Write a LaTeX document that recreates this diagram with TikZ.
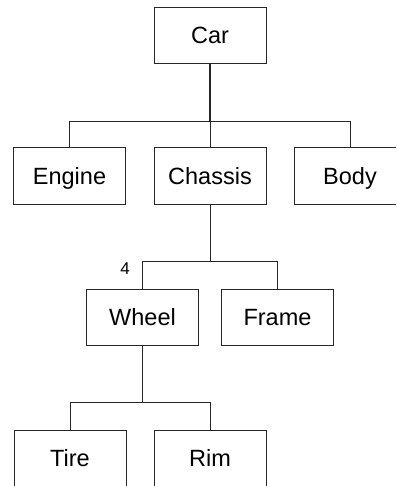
\documentclass[tikz,border=0pt]{standalone}
\usepackage{fontspec}
\setmainfont{Liberation Sans}
\begin{document}
\begin{tikzpicture}[x=1pt,y=-1pt,
  part/.style={draw=black!85, line width=1pt, minimum width=112pt, minimum height=56pt,
    inner sep=0pt, text height=16pt, text depth=0pt, font=\fontsize{23.5}{27}\selectfont},
  link/.style={draw=black!85, line width=1pt},
  mult/.style={font=\fontsize{17}{20}\selectfont, inner sep=0pt}]
\clip (0,0) rectangle (396,486);
\fill[white] (0,0) rectangle (396,486);
% top level
\node[part] (car) at (210,36) {Car};
\node[part] (engine) at (69.5,176) {Engine};
\node[part] (chassis) at (210,176) {Chassis};
\node[part] (body) at (350,176) {Body};
% chassis parts
\node[part] (wheel) at (142.5,317) {Wheel};
\node[part] (frame) at (277.5,317) {Frame};
% wheel parts
\node[part] (tire) at (70,458) {Tire};
\node[part] (rim) at (210,458) {Rim};
\node[mult] (n4) at (125,269) {4};
% tree connectors
\draw[link, line width=1.6pt] (car.south) -- ++(0,57) coordinate (j1);
\draw[link] (engine.north) |- (j1) -| (body.north);
\draw[link] (chassis.north) -- (j1);
\draw[link] (chassis.south) -- ++(0,57) coordinate (j2);
\draw[link] (wheel.north) |- (j2) -| (frame.north);
\draw[link] (wheel.south) -- ++(0,57) coordinate (j3);
\draw[link] (tire.north) |- (j3) -| (rim.north);
\end{tikzpicture}
\end{document}
